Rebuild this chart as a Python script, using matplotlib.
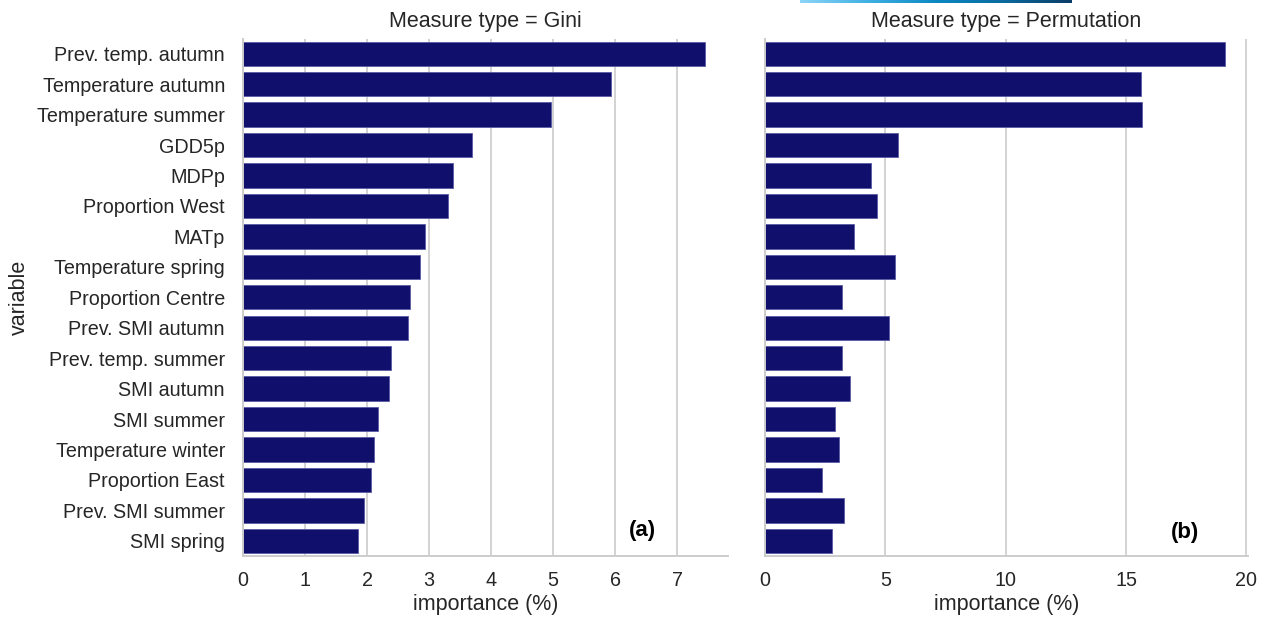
import numpy as np
import matplotlib
matplotlib.use("Agg")
import matplotlib.pyplot as plt
from matplotlib.colors import LinearSegmentedColormap

variables = [
    "Prev. temp. autumn", "Temperature autumn", "Temperature summer", "GDD5p",
    "MDPp", "Proportion West", "MATp", "Temperature spring", "Proportion Centre",
    "Prev. SMI autumn", "Prev. temp. summer", "SMI autumn", "SMI summer",
    "Temperature winter", "Proportion East", "Prev. SMI summer", "SMI spring",
]
gini = [7.45, 5.93, 4.97, 3.70, 3.38, 3.31, 2.93, 2.86, 2.69,
        2.66, 2.39, 2.35, 2.18, 2.11, 2.07, 1.95, 1.86]
permutation = [19.11, 15.61, 15.68, 5.51, 4.39, 4.65, 3.70, 5.40, 3.21,
               5.14, 3.20, 3.53, 2.91, 3.09, 2.35, 3.28, 2.78]
measure_types = ["Gini", "Permutation"]
panel_tags = ["(a)", "(b)"]
gini_ticks = [0, 1, 2, 3, 4, 5, 6, 7]
perm_ticks = [0, 5, 10, 15, 20]

plt.rcParams["font.family"] = ["Liberation Sans", "DejaVu Sans"]
text_color = "#262626"
grid_color = "#cccccc"
bar_color = "#10106c"

W, H = 1265, 621
fig = plt.figure(figsize=(W / 100, H / 100), dpi=100)

ax_bottom = 1 - 556 / H
ax_height = (556 - 38.5) / H
axes = [
    fig.add_axes([243 / W, ax_bottom, (728 - 243) / W, ax_height]),
    fig.add_axes([765 / W, ax_bottom, (1248 - 765) / W, ax_height]),
]

y = np.arange(len(variables))
for ax, vals, mtype, tag, ticks in zip(
        axes, [gini, permutation], measure_types, panel_tags, [gini_ticks, perm_ticks]):
    ax.barh(y, vals, height=0.8, color=bar_color, edgecolor="#5a5aa6",
            linewidth=0.6, zorder=2)
    ax.set_ylim(len(variables) - 0.5, -0.5)
    ax.set_xlim(0, max(vals) * 1.05)
    ax.set_xticks(ticks)
    ax.grid(axis="x", color=grid_color, linewidth=1.2, zorder=0)
    ax.set_axisbelow(True)
    for side in ["top", "right"]:
        ax.spines[side].set_visible(False)
    for side in ["left", "bottom"]:
        ax.spines[side].set_color(grid_color)
        ax.spines[side].set_linewidth(1.4)
    ax.tick_params(axis="both", length=0, labelsize=14.2, labelcolor=text_color)
    ax.tick_params(axis="x", pad=10.5)
    ax.tick_params(axis="y", pad=13)
    ax.set_title(f"Measure type = {mtype}", fontsize=15.5, color=text_color, pad=8)
    ax.set_xlabel("importance (%)", fontsize=15.5, color=text_color, labelpad=3)

axes[0].set_yticks(y)
axes[0].set_yticklabels(variables)
axes[0].set_ylabel("variable", fontsize=15.5, color=text_color, labelpad=5)
axes[1].set_yticks(y)
axes[1].set_yticklabels([])

axes[0].text(0.823, 0.050, panel_tags[0], transform=axes[0].transAxes,
             ha="center", va="center", fontsize=16, fontweight="bold", color="black")
axes[1].text(0.87, 0.046, panel_tags[1], transform=axes[1].transAxes,
             ha="center", va="center", fontsize=16, fontweight="bold", color="black")

# thin colour strip along the top edge
strip = fig.add_axes([800 / W, 1 - 3 / H, 272 / W, 3 / H])
strip_cmap = LinearSegmentedColormap.from_list(
    "strip", ["#8cd5f7", "#3fb0e3", "#0b88c4", "#0a6a9e", "#0b3c66"])
strip.imshow(np.linspace(0, 1, 256)[None, :], aspect="auto", cmap=strip_cmap)
strip.set_axis_off()

fig.savefig("out.png", dpi=100)
